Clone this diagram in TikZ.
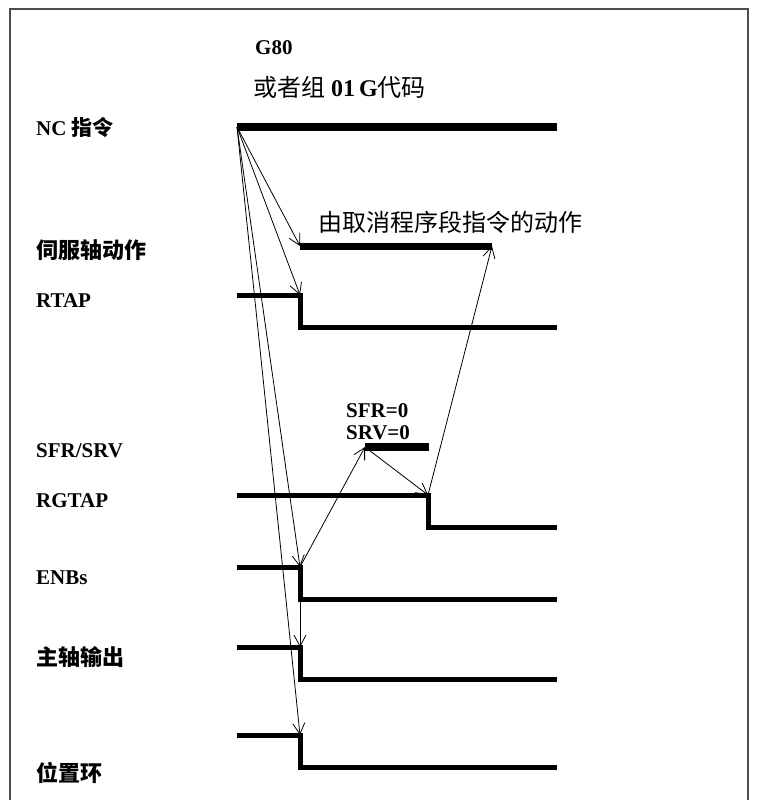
\documentclass[tikz,border=0pt]{standalone}
\usepackage{fontspec}
\setmainfont{Liberation Serif}
\newfontfamily\cjk{Noto Sans CJK SC}
\usetikzlibrary{arrows.meta}
\begin{document}
\begin{tikzpicture}[x=1pt,y=-1pt,
  sig/.style={line width=5pt,line cap=butt,line join=miter},
  sigthick/.style={line width=8pt,line cap=butt},
  arr/.style={line width=0.8pt,-{Straight Barb[length=11pt,width=12pt,line width=0.8pt]}},
  lab/.style={anchor=west,inner sep=0pt,font=\fontsize{21}{24}\selectfont\bfseries},
  clab/.style={anchor=west,inner sep=0pt,font=\fontsize{22}{24}\selectfont\cjk\bfseries},
  frame/.style={line width=1.2pt,draw=black!70}]
\useasboundingbox (0,0) rectangle (756,800);
\draw[frame] (10,800) -- (10,9) -- (748,9) -- (748,800);

% corner coordinates
\coordinate (nc) at (237,127);
\coordinate (ncend) at (557,127);
\coordinate (svs) at (300,246);
\coordinate (sve) at (492,246);
\coordinate (rt) at (300,295);
\coordinate (sfr) at (365,447);
\coordinate (sfre) at (429,447);
\coordinate (rg) at (428,495);
\coordinate (en) at (300,567);
\coordinate (sp) at (300,647);
\coordinate (pl) at (300,735);

% signals
\draw[sigthick] (nc) -- (ncend);
\draw[line width=7pt] (svs) -- (sve);
\draw[sig] (237,295) -- (rt) -- (300,327) -- (557,327);
\draw[sigthick] (sfr) -- (sfre);
\draw[sig] (237,495) -- (rg) -- (428,527) -- (557,527);
\draw[sig] (237,567) -- (en) -- (300,599) -- (557,599);
\draw[sig] (237,647) -- (sp) -- (300,679) -- (557,679);
\draw[sig] (237,735) -- (pl) -- (300,767) -- (557,767);

% arrows
\draw[arr] (nc) -- (svs);
\draw[arr] (nc) -- (rt);
\draw[arr] (nc) -- (en);
\draw[arr] (nc) -- (pl);
\draw[arr] (en) -- (sfr);
\draw[arr] (sfr) -- (rg);
\draw[arr] (rg) -- (sve);
\draw[arr] (en) -- (sp);

% texts
\node[lab] (g80) at (255,48) {G80};
\node[anchor=west,inner sep=0pt,font=\fontsize{24}{26}\selectfont] (grp) at (253,87) {{\cjk 或者组} \textbf{01}\,\textbf{G}{\cjk 代码}};
\node[anchor=west,inner sep=0pt,font=\fontsize{21}{24}\selectfont] (lnc) at (36,127) {\textbf{NC} {\cjk\bfseries 指令}};
\node[clab] (lsv) at (36,250) {伺服轴动作};
\node[lab] (lrt) at (36,301) {RTAP};
\node[lab] (lsf) at (36,451) {SFR/SRV};
\node[lab] (lrg) at (36,501) {RGTAP};
\node[lab] (len) at (36,578) {ENBs};
\node[clab] (lsp) at (36,657) {主轴输出};
\node[clab] (lpl) at (36,773) {位置环};
\node[anchor=west,inner sep=0pt,font=\fontsize{24}{26}\selectfont\cjk] (cancel) at (318,222) {由取消程序段指令的动作};
\node[lab] (sfr0) at (346,411) {SFR=0};
\node[lab] (srv0) at (346,433) {SRV=0};
\end{tikzpicture}
\end{document}
